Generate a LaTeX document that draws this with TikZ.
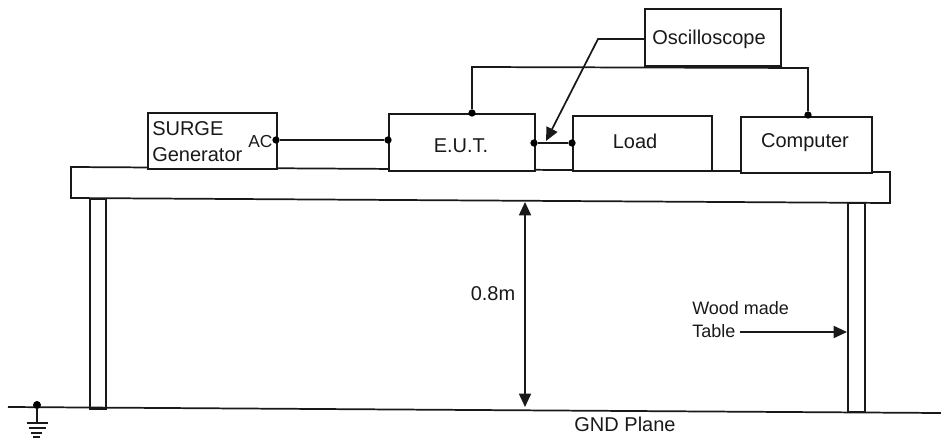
\documentclass[tikz,border=0pt]{standalone}
\usepackage{fontspec}
\setmainfont{Liberation Sans}
\usetikzlibrary{arrows.meta}
\tikzset{
  box/.style={draw=black!90,line width=1.3pt,fill=white,inner sep=0pt},
  wire/.style={draw=black!90,line width=1.3pt},
  dotmark/.style={circle,fill=black,inner sep=0pt,minimum size=5.5pt},
  lbl/.style={font=\fontsize{15}{17}\selectfont,text=black!90,inner sep=0pt},
  smalllbl/.style={font=\fontsize{13.5}{15}\selectfont,text=black!90,inner sep=0pt,align=left},
  tip/.style={-{Triangle[length=10pt,width=9pt]}}
}
\begin{document}
\begin{tikzpicture}[x=0.75pt,y=-0.75pt]
\useasboundingbox (0,0) rectangle (941,439);
% table
\draw[box] (71,167) -- (890,172) -- (890,203) -- (71,198) -- cycle;
\node[box,anchor=north west,minimum width=16*0.75pt,minimum height=210*0.75pt] (legL) at (89,198) {};
\node[box,anchor=north west,minimum width=17*0.75pt,minimum height=209*0.75pt] (legR) at (847,202) {};
% ground
\coordinate (g1) at (8,407);
\coordinate (g2) at (941,413);
\draw[wire] (g1) -- (g2);
\node[dotmark,minimum size=6pt] (gd) at (37,405) {};
\coordinate (gb) at (37,423);
\draw[wire] (gd) -- (gb);
\draw[wire] (27,423) -- (48,423);
\draw[wire] (29,428) -- (46,428);
\draw[wire] (31,433) -- (42,433);
\draw[wire] (33,437) -- (40,437);
% boxes
\node[box,anchor=north west,minimum width=129*0.75pt,minimum height=56*0.75pt] (surge) at (147,112) {};
\node[box,anchor=north west,minimum width=146*0.75pt,minimum height=57*0.75pt] (eut) at (388,113) {};
\node[box,anchor=north west,minimum width=139*0.75pt,minimum height=55*0.75pt] (load) at (572,115) {};
\node[box,anchor=north west,minimum width=131*0.75pt,minimum height=56*0.75pt] (comp) at (740,116) {};
\node[box,anchor=north west,minimum width=136*0.75pt,minimum height=57*0.75pt] (osc) at (644,8) {};
% texts
\node[lbl,anchor=west] (t1) at (152,129) {SURGE};
\node[lbl,anchor=west] (t2) at (152,155) {Generator};
\node[font=\fontsize{13}{15}\selectfont,text=black!90,inner sep=0pt,anchor=west] (t3) at (248,142) {AC};
\node[lbl] (t4) at (461,146) {E.U.T.};
\node[lbl] (t5) at (635,141) {Load};
\node[lbl] (t6) at (805,143) {Computer};
\node[lbl] (t7) at (709,39) {Oscilloscope};
\node[lbl] (t8) at (493,294) {0.8m};
\node[smalllbl,anchor=west] (t9) at (692,308) {Wood made};
\node[smalllbl,anchor=west] (t10) at (692,331) {Table};
\node[lbl] (t11) at (625,424) {GND Plane};
% dots
\node[dotmark] (acd) at (276,140) {};
\node[dotmark] (eutl) at (388,140) {};
\node[dotmark] (eutt) at (472,113) {};
\node[dotmark] (eutr) at (534,143) {};
\node[dotmark] (loadl) at (572,143) {};
\node[dotmark] (compt) at (808,115) {};
% connectors
\draw[wire] (acd) -- (eutl);
\draw[wire,line width=1.8pt] (eutr) -- (loadl);
\draw[wire] (eutt) -- (472,67) -- (808,68) -- (compt);
\coordinate (oscb) at (598,39);
\coordinate (probe) at (546,141);
\draw[wire,tip] (osc.west |- oscb) -- (oscb) -- (probe);
\coordinate (h1) at (525,202);
\coordinate (h2) at (525,407);
\draw[wire,{Triangle[length=10pt,width=9pt]}-{Triangle[length=10pt,width=9pt]}] (h1) -- (h2);
\coordinate (w1) at (740,332);
\draw[wire,tip] (w1) -- (legR.west |- w1);
\end{tikzpicture}
\end{document}
